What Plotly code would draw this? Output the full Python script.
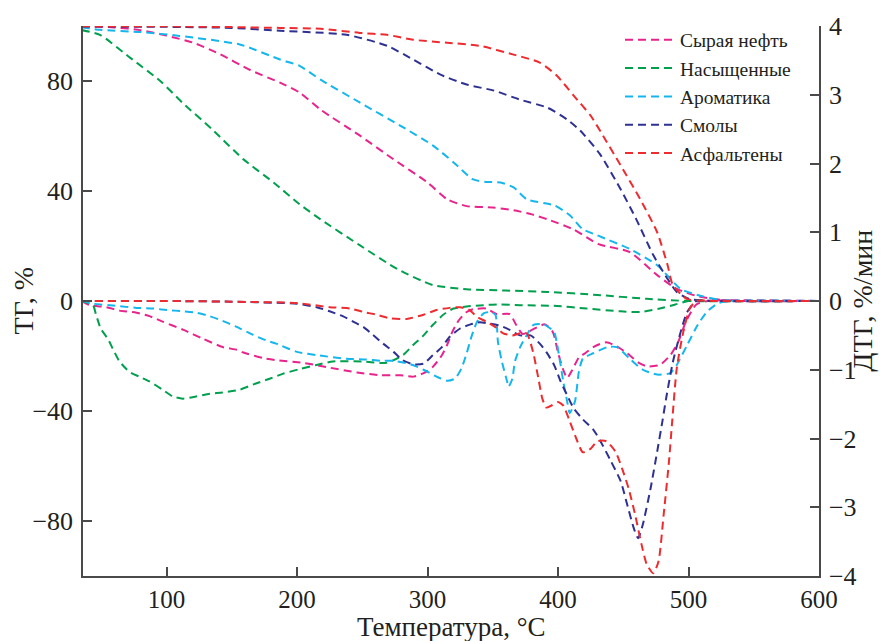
import plotly.graph_objects as go

# ---------------- data ----------------
series_names = ["Сырая нефть", "Насыщенные", "Ароматика", "Смолы", "Асфальтены"]
series_colors = ["#E8238C", "#00A04E", "#14B6EE", "#2E3192", "#EE2B2F"]

# TG curves (left axis, %)
tg_crude_x = [35, 60, 80, 100, 120, 140, 164, 187, 202, 218, 248, 274, 300, 315, 330, 350, 366, 380, 392, 412, 431, 455, 476, 491, 505, 519, 540, 600]
tg_crude_y = [99.8, 99.5, 98.5, 96.5, 94, 90, 84, 79.4, 75.8, 69.6, 60.2, 51.5, 43.1, 37, 34.5, 34, 33, 31.5, 29.7, 26, 20.7, 17.8, 9.4, 4.4, 2, 0.7, 0, 0]

tg_sat_x = [35, 49, 72, 95, 112, 135, 159, 182, 202, 218, 248, 277, 304, 330, 360, 392, 430, 468, 500, 600]
tg_sat_y = [98.5, 96.8, 88.5, 80.1, 72.2, 62.4, 51.5, 43.1, 35.2, 29.7, 20.3, 11.6, 5.8, 4.3, 3.8, 3.3, 2.2, 0.8, 0, 0]

tg_aro_x = [35, 49, 80, 110, 156, 187, 202, 218, 248, 279, 304, 320, 335, 345, 356, 366, 376, 397, 409, 419, 430, 455, 476, 494, 507, 524, 540, 600]
tg_aro_y = [99.5, 98.6, 97.8, 96.4, 93.3, 87.8, 85.5, 80.5, 72.2, 63.8, 56.6, 50.4, 44.2, 43.3, 43.1, 41.3, 37, 34.8, 31.2, 26.1, 23.9, 18.9, 13, 4.4, 2.2, 0.4, 0, 0]

tg_res_x = [35, 100, 150, 187, 238, 269, 289, 310, 330, 351, 371, 392, 407, 417, 432, 448, 460, 473, 484, 491, 501, 520, 600]
tg_res_y = [99.8, 99.7, 99.3, 98.3, 96.8, 92.8, 87.8, 82.3, 78.7, 76.5, 73.2, 70.3, 66, 62, 53.5, 40.6, 29.7, 16.7, 8, 3.3, 0.7, 0, 0]

tg_asp_x = [35, 100, 150, 187, 218, 248, 269, 289, 315, 340, 366, 386, 399, 412, 425, 433, 448, 463, 476, 484, 488, 499, 520, 600]
tg_asp_y = [99.9, 99.9, 99.6, 99.3, 99, 97.5, 96.8, 95, 93.9, 92.8, 89.6, 86.7, 82, 74.7, 67.4, 61.3, 49.3, 37, 25, 13, 5.8, 0.7, 0, 0]

# DTG curves (right axis, %/мин)
dtg_crude_x = [35, 41, 54, 64, 77, 87, 97, 113, 128, 143, 154, 159, 174, 184, 205, 225, 246, 264, 279, 289, 297, 304, 311, 315, 319, 324, 330, 335, 345, 353, 363, 368, 373, 380, 390, 396, 400, 404, 407, 411, 416, 420, 428, 437, 445, 453, 462, 468, 478, 486, 492, 498, 506, 515, 600]
dtg_crude_y = [0, -0.06, -0.09, -0.14, -0.17, -0.22, -0.3, -0.42, -0.55, -0.67, -0.71, -0.75, -0.83, -0.86, -0.9, -0.97, -1.04, -1.08, -1.08, -1.1, -1.05, -0.96, -0.79, -0.64, -0.45, -0.28, -0.16, -0.12, -0.11, -0.19, -0.19, -0.35, -0.48, -0.42, -0.34, -0.45, -0.75, -1.0, -1.12, -1.0, -0.82, -0.77, -0.66, -0.6, -0.66, -0.76, -0.9, -0.95, -0.93, -0.79, -0.6, -0.3, -0.05, 0, 0]

dtg_sat_x = [35, 43.6, 46, 49.6, 55, 59, 64, 71.6, 79, 87, 97, 105, 112.5, 122.5, 133, 143, 156, 168.5, 179, 189, 202, 215, 227.5, 250, 268.5, 281, 289, 297, 304, 312, 320, 330, 343, 356, 371, 397, 422, 448, 463, 478, 490, 500, 520, 600]
dtg_sat_y = [0, -0.06, -0.2, -0.4, -0.55, -0.7, -0.88, -1.03, -1.1, -1.17, -1.29, -1.39, -1.42, -1.39, -1.35, -1.33, -1.29, -1.2, -1.13, -1.06, -0.99, -0.93, -0.88, -0.88, -0.9, -0.79, -0.64, -0.5, -0.35, -0.2, -0.11, -0.08, -0.06, -0.05, -0.06, -0.07, -0.11, -0.15, -0.16, -0.11, -0.05, 0, 0, 0]

dtg_aro_x = [35, 44, 61, 77, 90, 100, 113, 123, 133, 143, 153, 166, 176, 184, 200, 216, 238, 253, 264, 274, 287, 297, 307, 315, 321, 326, 330, 334, 338, 343, 348, 352, 354, 357, 361, 362, 365, 367, 371, 376, 381, 389, 397, 399, 402, 404, 407, 409, 413, 416, 419, 427, 438, 445, 455, 465, 476, 486, 491, 499, 507, 514, 522, 530, 600]
dtg_aro_y = [0, -0.04, -0.07, -0.1, -0.11, -0.13, -0.15, -0.17, -0.22, -0.29, -0.37, -0.49, -0.57, -0.62, -0.74, -0.79, -0.84, -0.85, -0.87, -0.87, -0.92, -1.0, -1.1, -1.16, -1.13, -0.98, -0.76, -0.5, -0.3, -0.18, -0.16, -0.2, -0.6, -0.88, -1.17, -1.25, -1.13, -0.88, -0.67, -0.5, -0.35, -0.34, -0.45, -0.6, -0.93, -1.17, -1.46, -1.63, -1.46, -1.03, -0.84, -0.76, -0.67, -0.67, -0.84, -1.0, -1.07, -1.05, -0.93, -0.64, -0.35, -0.16, -0.04, 0, 0]

dtg_res_x = [35, 100, 150, 200, 215, 225, 235, 243, 251, 258, 266, 274, 281, 289, 297, 304, 311, 317, 325, 333, 340, 348, 356, 363, 371, 379, 386, 391, 397, 402, 407, 412, 419, 427, 432, 440, 448, 453, 458, 461.4, 465, 471, 476, 480, 483, 488, 494, 499, 506, 520, 600]
dtg_res_y = [0, 0, -0.01, -0.04, -0.09, -0.15, -0.22, -0.3, -0.38, -0.49, -0.62, -0.74, -0.86, -0.92, -0.91, -0.79, -0.67, -0.52, -0.4, -0.34, -0.31, -0.33, -0.36, -0.42, -0.5, -0.5, -0.62, -0.74, -0.93, -1.17, -1.37, -1.56, -1.72, -1.87, -2.02, -2.31, -2.62, -2.96, -3.3, -3.45, -3.25, -2.72, -2.19, -1.75, -1.4, -0.89, -0.45, -0.16, 0, 0, 0]

dtg_asp_x = [35, 100, 150, 200, 225, 241, 251, 261, 271, 284, 297, 307, 317, 325, 332, 338, 345, 352, 358, 365, 371, 376, 381, 385, 388, 391, 395, 400, 404, 409, 414, 419, 425, 430, 437, 444, 449, 454, 459, 464, 468, 473, 477, 481, 485, 487.5, 491, 496, 501, 506, 520, 600]
dtg_asp_y = [0, 0, -0.01, -0.03, -0.09, -0.11, -0.16, -0.2, -0.25, -0.26, -0.2, -0.13, -0.1, -0.09, -0.13, -0.23, -0.3, -0.38, -0.47, -0.5, -0.47, -0.47, -0.75, -1.13, -1.42, -1.55, -1.52, -1.47, -1.52, -1.75, -2.0, -2.2, -2.15, -2.04, -2.04, -2.19, -2.43, -2.72, -3.1, -3.54, -3.83, -3.96, -3.79, -3.1, -2.34, -1.75, -0.98, -0.45, -0.11, 0, 0, 0]

tg_left_ticks = [-80, -40, 0, 40, 80]
dtg_right_ticks = [-4, -3, -2, -1, 0, 1, 2, 3, 4]
x_ticks = [100, 200, 300, 400, 500, 600]

x_title = "Температура, °C"
y_title = "ТГ, %"
y2_title = "ДТГ, %/мин"

# ---------------- figure ----------------
FONT = "Liberation Serif, Times New Roman, serif"
TXT = "#231f20"
AX = "#4a4a4a"
DASH = "8px,5px"

tg_sets = [(tg_crude_x, tg_crude_y), (tg_sat_x, tg_sat_y), (tg_aro_x, tg_aro_y),
           (tg_res_x, tg_res_y), (tg_asp_x, tg_asp_y)]
dtg_sets = [(dtg_crude_x, dtg_crude_y), (dtg_sat_x, dtg_sat_y), (dtg_aro_x, dtg_aro_y),
            (dtg_res_x, dtg_res_y), (dtg_asp_x, dtg_asp_y)]

fig = go.Figure()
for i, name in enumerate(series_names):
    c = series_colors[i]
    xs, ys = tg_sets[i]
    fig.add_trace(go.Scatter(x=xs, y=ys, name=name, mode="lines", legendgroup=name,
                             line=dict(color=c, width=2, dash=DASH, shape="spline", smoothing=0.6),
                             yaxis="y"))
for i, name in enumerate(series_names):
    c = series_colors[i]
    xs, ys = dtg_sets[i]
    fig.add_trace(go.Scatter(x=xs, y=ys, name=name, mode="lines", legendgroup=name,
                             showlegend=False,
                             line=dict(color=c, width=2, dash=DASH, shape="spline", smoothing=0.6),
                             yaxis="y2"))

tickfont = dict(family=FONT, size=26, color=TXT)

# page body has an 8px margin, so the figure is sized 8px smaller than the window
fig.update_layout(
    width=884, height=633,
    margin=dict(l=75, r=73, t=16, b=65),
    paper_bgcolor="white", plot_bgcolor="white",
    showlegend=True,
    legend=dict(x=0.7296, y=1.01, xanchor="left", yanchor="top",
                font=dict(family=FONT, size=19.5, color=TXT),
                bgcolor="rgba(0,0,0,0)", borderwidth=0, tracegroupgap=0,
                itemwidth=50),
    xaxis=dict(range=[36, 600], tickvals=x_ticks, ticks="inside", ticklen=9,
               tickcolor=AX, tickwidth=1.5, showline=True, linecolor=AX, linewidth=1.5,
               showgrid=False, zeroline=False, tickfont=dict(family=FONT, size=25, color=TXT),
               automargin=False, ticklabelstandoff=0),
    yaxis=dict(range=[-100, 100], tickvals=tg_left_ticks, ticks="inside", ticklen=9,
               tickcolor=AX, tickwidth=1.5, showline=True, linecolor=AX, linewidth=1.5,
               showgrid=False, zeroline=False, tickfont=tickfont, automargin=False,
               ticklabelstandoff=3),
    yaxis2=dict(range=[-4, 4], tickvals=dtg_right_ticks, overlaying="y", side="right",
                ticks="inside", ticklen=9, tickcolor=AX, tickwidth=1.5, showline=True,
                linecolor=AX, linewidth=1.5, showgrid=False, zeroline=False,
                tickfont=tickfont, automargin=False, ticklabelstandoff=3),
    annotations=[
        dict(text=x_title, xref="paper", yref="paper", x=0.5, y=-0.0935, xanchor="center",
             yanchor="middle", showarrow=False, font=dict(family=FONT, size=27, color=TXT)),
        dict(text=y_title, xref="paper", yref="paper", x=-0.081, y=0.5, xanchor="center",
             yanchor="middle", textangle=-90, showarrow=False,
             font=dict(family=FONT, size=28, color=TXT)),
        dict(text=y2_title, xref="paper", yref="paper", x=1.058, y=0.5, xanchor="center",
             yanchor="middle", textangle=-90, showarrow=False,
             font=dict(family=FONT, size=28, color=TXT)),
    ],
)

fig.write_html("out.html")
